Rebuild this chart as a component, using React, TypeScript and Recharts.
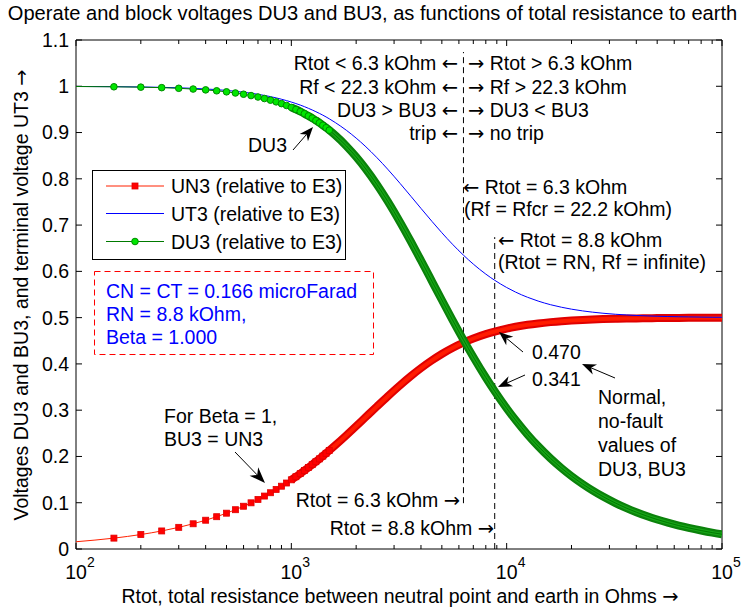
import React from 'react';
import { LineChart, Line, XAxis, YAxis, ReferenceLine } from 'recharts';

const FONT = '"Liberation Sans", Arial, Helvetica, sans-serif';
const AFONT = '"DejaVu Sans", sans-serif';
const FS = 19.5;

// Rtot values (Ohm)
const rtot = [100,150,200,250,300,350,400,450,500,550,600,650,700,750,800,850,900,950,1000,1050,1100,1150,1200,1250,1300,1350,1400,1450,1500,
  1600,1800,2000,2200,2500,2800,3200,3600,4000,4500,5000,5600,6300,7000,8000,8800,10000,11000,12500,14000,16000,18000,20000,22500,25000,28000,32000,36000,40000,45000,50000,56000,63000,70000,80000,90000,100000];

// UN3 (relative to E3) -- also BU3 for Beta = 1
const un3 = [0.0157,0.0235,0.0313,0.0390,0.0468,0.0545,0.0622,0.0698,0.0774,0.0849,0.0924,0.0998,0.1071,0.1144,0.1216,0.1287,0.1357,0.1426,0.1495,0.1562,0.1629,0.1695,0.1760,0.1823,0.1886,0.1948,0.2008,0.2068,0.2127,
  0.2241,0.2456,0.2655,0.2838,0.3083,0.3297,0.3540,0.3741,0.3908,0.4078,0.4215,0.4344,0.4460,0.4549,0.4644,0.4700,0.4763,0.4802,0.4845,0.4875,0.4903,0.4923,0.4937,0.4950,0.4960,0.4968,0.4975,0.4981,0.4984,0.4988,0.4990,0.4992,0.4994,0.4995,0.4996,0.4997,0.4998];

// UT3 (relative to E3)
const ut3 = [0.9996,0.9992,0.9985,0.9977,0.9967,0.9955,0.9942,0.9927,0.9910,0.9891,0.9871,0.9850,0.9826,0.9802,0.9776,0.9749,0.9720,0.9690,0.9659,0.9627,0.9594,0.9560,0.9524,0.9488,0.9451,0.9414,0.9376,0.9337,0.9297,
  0.9216,0.9050,0.8880,0.8709,0.8455,0.8209,0.7900,0.7617,0.7361,0.7079,0.6835,0.6587,0.6350,0.6157,0.5941,0.5807,0.5651,0.5552,0.5440,0.5358,0.5279,0.5224,0.5183,0.5146,0.5119,0.5095,0.5073,0.5058,0.5047,0.5037,0.5030,0.5024,0.5019,0.5016,0.5012,0.5009,0.5008];

// DU3 (relative to E3)
const du3 = [0.9995,0.9989,0.9981,0.9970,0.9956,0.9940,0.9922,0.9902,0.9880,0.9855,0.9828,0.9799,0.9768,0.9735,0.9700,0.9663,0.9625,0.9585,0.9543,0.9499,0.9454,0.9408,0.9360,0.9312,0.9261,0.9210,0.9158,0.9105,0.9051,
  0.8940,0.8711,0.8474,0.8234,0.7873,0.7518,0.7062,0.6634,0.6237,0.5786,0.5381,0.4952,0.4520,0.4149,0.3706,0.3410,0.3041,0.2787,0.2474,0.2223,0.1956,0.1746,0.1576,0.1405,0.1267,0.1133,0.0993,0.0883,0.0796,0.0708,0.0637,0.0569,0.0506,0.0456,0.0399,0.0354,0.0319];

const seriesNames = ['UN3 (relative to E3)', 'UT3 (relative to E3)', 'DU3 (relative to E3)'];

const xTicks = [100, 1000, 10000, 100000];
const xTickExp = ['2', '3', '4', '5'];
const yTicks = [0, 0.1, 0.2, 0.3, 0.4, 0.5, 0.6, 0.7, 0.8, 0.9, 1, 1.1];
const yTickLabels = ['0', '0.1', '0.2', '0.3', '0.4', '0.5', '0.6', '0.7', '0.8', '0.9', '1', '1.1'];
const minorMult = [2, 3, 4, 5, 6, 7, 8, 9];
const decades = [100, 1000, 10000];

const rCrit = 6300; // Rtot = 6.3 kOhm
const rN = 8800; // Rtot = 8.8 kOhm
const critLineSpan = [0.099, 1.074];
const rnLineSpan = [0, 0.674];

const bandStart = 1000;
const markerMin = 150;
const markerMax = 1500;

const rows = rtot.map((r, i) => ({
  r,
  un: un3[i],
  ut: ut3[i],
  du: du3[i],
  unBand: r >= bandStart ? un3[i] : null,
  duBand: r >= bandStart ? du3[i] : null,
}));

// plot box
const PL = 76, PR = 722, PT = 40, PB = 549;
const YAW = 40, XAH = 40;
const Y_PER_PX = 1.1 / (PB - PT);
const DEC_PER_PX = 3 / (PR - PL);
const majLenY = 6 * Y_PER_PX;
const minLenY = 4 * Y_PER_PX;
const lenXf = Math.pow(10, 6 * DEC_PER_PX);

const SquareDot = (props: any) => {
  const { cx, cy, payload, index } = props;
  if (payload.r < markerMin || payload.r > markerMax) return <g key={`s${index}`} />;
  return <rect key={`s${index}`} x={cx - 3} y={cy - 3} width={6} height={6} fill="#ff0000" stroke="#e00000" strokeWidth={0.8} />;
};

const CircleDot = (props: any) => {
  const { cx, cy, payload, index } = props;
  if (payload.r < markerMin || payload.r > markerMax) return <g key={`c${index}`} />;
  return <circle key={`c${index}`} cx={cx} cy={cy} r={3.3} fill="#00e600" stroke="#008a00" strokeWidth={1} />;
};

const XTick = (props: any) => {
  const { x, y, payload } = props;
  const i = xTicks.indexOf(payload.value);
  return (
    <g>
      <text x={x} y={y + 30} textAnchor="middle" fontSize={FS} fontFamily={FONT} fill="#000">10</text>
      <text x={x + 11} y={y + 18} textAnchor="start" fontSize={14} fontFamily={FONT} fill="#000">{xTickExp[i]}</text>
    </g>
  );
};

function Arrow({ x1, y1, x2, y2, hl = 14, hw = 5.5 }: any) {
  const dx = x2 - x1, dy = y2 - y1;
  const L = Math.hypot(dx, dy);
  const ux = dx / L, uy = dy / L;
  const px = -uy, py = ux;
  const bx = x2 - ux * hl, by = y2 - uy * hl;
  const nx = x2 - ux * hl * 0.7, ny = y2 - uy * hl * 0.7;
  return (
    <g>
      <line x1={x1} y1={y1} x2={nx} y2={ny} stroke="#000" strokeWidth={1} />
      <polygon points={`${x2},${y2} ${bx + px * hw},${by + py * hw} ${nx},${ny} ${bx - px * hw},${by - py * hw}`} fill="#000" />
    </g>
  );
}

const AR = (p: any) => <tspan fontFamily={AFONT}>{p.children}</tspan>;

const T = (p: any) => (
  <text x={p.x} y={p.y} textAnchor={p.anchor || 'start'} fontSize={p.fs || FS} fontFamily={FONT} fill={p.fill || '#000'}>{p.children}</text>
);

export default function App() {
  const tickLines: any[] = [];
  decades.forEach((d) => {
    minorMult.forEach((m) => {
      const r = d * m;
      tickLines.push(<ReferenceLine key={`bm${r}`} segment={[{ x: r, y: 0 }, { x: r, y: minLenY }]} stroke="#000" strokeWidth={1} />);
      tickLines.push(<ReferenceLine key={`tm${r}`} segment={[{ x: r, y: 1.1 }, { x: r, y: 1.1 - minLenY }]} stroke="#000" strokeWidth={1} />);
    });
  });
  xTicks.forEach((r) => {
    tickLines.push(<ReferenceLine key={`bM${r}`} segment={[{ x: r, y: 0 }, { x: r, y: majLenY }]} stroke="#000" strokeWidth={1} />);
    tickLines.push(<ReferenceLine key={`tM${r}`} segment={[{ x: r, y: 1.1 }, { x: r, y: 1.1 - majLenY }]} stroke="#000" strokeWidth={1} />);
  });
  yTicks.forEach((v) => {
    tickLines.push(<ReferenceLine key={`yl${v}`} segment={[{ x: 100, y: v }, { x: 100 * lenXf, y: v }]} stroke="#000" strokeWidth={1} />);
    tickLines.push(<ReferenceLine key={`yr${v}`} segment={[{ x: 100000 / lenXf, y: v }, { x: 100000, y: v }]} stroke="#000" strokeWidth={1} />);
  });

  return (
    <div style={{ position: 'absolute', left: 0, top: 0, width: 750, height: 609, background: '#fff', overflow: 'hidden' }}>
      <LineChart width={750} height={609} data={rows} margin={{ top: PT, right: 750 - PR, bottom: 609 - PB - XAH, left: PL - YAW }}>
        <XAxis dataKey="r" type="number" scale="log" domain={[100, 100000]} ticks={xTicks} height={XAH}
          tickSize={0} tickMargin={0} axisLine={false} tickLine={false} interval={0} allowDataOverflow
          tick={(p: any) => <XTick {...p} />} />
        <YAxis type="number" domain={[0, 1.1]} ticks={yTicks} width={YAW} tickSize={0} tickMargin={7}
          axisLine={false} tickLine={false} interval={0} allowDataOverflow
          tickFormatter={(v: number) => yTickLabels[yTicks.indexOf(v)] ?? String(v)}
          tick={{ fontSize: FS, fill: '#000', fontFamily: FONT }} />
        {tickLines}
        <ReferenceLine x={100} stroke="#000" strokeWidth={1} />
        <ReferenceLine x={100000} stroke="#000" strokeWidth={1} />
        <ReferenceLine y={0} stroke="#000" strokeWidth={1} />
        <ReferenceLine y={1.1} stroke="#000" strokeWidth={1} />
        <ReferenceLine segment={[{ x: rCrit, y: critLineSpan[0] }, { x: rCrit, y: critLineSpan[1] }]} stroke="#000" strokeWidth={1} strokeDasharray="6 4" />
        <ReferenceLine segment={[{ x: rN, y: rnLineSpan[0] }, { x: rN, y: rnLineSpan[1] }]} stroke="#000" strokeWidth={1} strokeDasharray="6 4" />

        {/* UN3 */}
        <Line type="monotone" dataKey="unBand" stroke="#e00000" strokeWidth={8} dot={false} isAnimationActive={false} connectNulls={false} legendType="none" />
        <Line type="monotone" dataKey="unBand" stroke="#ff1a00" strokeWidth={4} dot={false} isAnimationActive={false} connectNulls={false} legendType="none" />
        <Line type="monotone" dataKey="un" name={seriesNames[0]} stroke="#ff2000" strokeWidth={1} dot={(p: any) => <SquareDot key={`sd${p.index}`} {...p} />} isAnimationActive={false} />

        {/* UT3 */}
        <Line type="monotone" dataKey="ut" name={seriesNames[1]} stroke="#0000ff" strokeWidth={1} dot={false} isAnimationActive={false} />

        {/* DU3 */}
        <Line type="monotone" dataKey="duBand" stroke="#0b820b" strokeWidth={8} dot={false} isAnimationActive={false} connectNulls={false} legendType="none" />
        <Line type="monotone" dataKey="duBand" stroke="#16a516" strokeWidth={3.5} dot={false} isAnimationActive={false} connectNulls={false} legendType="none" />
        <Line type="monotone" dataKey="du" name={seriesNames[2]} stroke="#007a00" strokeWidth={1} dot={(p: any) => <CircleDot key={`cd${p.index}`} {...p} />} isAnimationActive={false} />
      </LineChart>

      <svg width={750} height={609} style={{ position: 'absolute', left: 0, top: 0, pointerEvents: 'none' }}>
        {/* title */}
        <T x={372.5} y={20} anchor="middle" fs={20.1}>Operate and block voltages DU3 and BU3, as functions of total resistance to earth</T>
        {/* axis labels */}
        <text x={28} y={295} transform="rotate(-90 28 295)" textAnchor="middle" fontSize={FS} fontFamily={FONT} fill="#000">Voltages DU3 and BU3, and terminal voltage UT3 <AR>→</AR></text>
        <T x={400} y={603} anchor="middle">Rtot, total resistance between neutral point and earth in Ohms <AR>→</AR></T>

        {/* legend */}
        <rect x={92.5} y={170.5} width={253} height={89} fill="#fff" stroke="#000" strokeWidth={1} />
        <line x1={106} y1={186} x2={164} y2={186} stroke="#ff2000" strokeWidth={1} />
        <rect x={132} y={183} width={6} height={6} fill="#ff0000" stroke="#e00000" strokeWidth={0.8} />
        <T x={171} y={193}>{seriesNames[0]}</T>
        <line x1={106} y1={213.5} x2={164} y2={213.5} stroke="#0000ff" strokeWidth={1} />
        <T x={171} y={220.5}>{seriesNames[1]}</T>
        <line x1={106} y1={241.5} x2={164} y2={241.5} stroke="#007a00" strokeWidth={1} />
        <circle cx={135} cy={241.5} r={3.3} fill="#00e600" stroke="#008a00" strokeWidth={1} />
        <T x={171} y={248.5}>{seriesNames[2]}</T>

        {/* parameter box */}
        <rect x={94.5} y={271.5} width={279} height={83} fill="none" stroke="#ff0000" strokeWidth={1} strokeDasharray="6 4" />
        <T x={106} y={298} fill="#0000ff">CN = CT = 0.166 microFarad</T>
        <T x={106} y={321} fill="#0000ff">RN = 8.8 kOhm,</T>
        <T x={106} y={344} fill="#0000ff">Beta = 1.000</T>

        {/* trip / no trip block */}
        <T x={458} y={70} anchor="end">Rtot &lt; 6.3 kOhm <AR>←</AR></T>
        <T x={458} y={93.5} anchor="end">Rf &lt; 22.3 kOhm <AR>←</AR></T>
        <T x={458} y={117} anchor="end">DU3 &gt; BU3 <AR>←</AR></T>
        <T x={458} y={140} anchor="end">trip <AR>←</AR></T>
        <T x={468} y={70}><AR>→</AR> Rtot &gt; 6.3 kOhm</T>
        <T x={468} y={93.5}><AR>→</AR> Rf &gt; 22.3 kOhm</T>
        <T x={468} y={117}><AR>→</AR> DU3 &lt; BU3</T>
        <T x={468} y={140}><AR>→</AR> no trip</T>

        <T x={463} y={194}><AR>←</AR> Rtot = 6.3 kOhm</T>
        <T x={464} y={216}>(Rf = Rfcr = 22.2 kOhm)</T>
        <T x={498} y={247}><AR>←</AR> Rtot = 8.8 kOhm</T>
        <T x={498} y={269}>(Rtot = RN, Rf = infinite)</T>

        <T x={248} y={152}>DU3</T>
        <Arrow x1={293} y1={150} x2={313} y2={127} />

        <T x={532} y={359}>0.470</T>
        <T x={532} y={386}>0.341</T>
        <Arrow x1={523} y1={352} x2={499} y2={332} />
        <Arrow x1={525} y1={375} x2={498} y2={387} />

        <T x={598} y={404}>Normal,</T>
        <T x={598} y={428}>no-fault</T>
        <T x={598} y={452}>values of</T>
        <T x={598} y={476}>DU3, BU3</T>
        <Arrow x1={615} y1={378} x2={582} y2={364} />

        <T x={164} y={423}>For Beta = 1,</T>
        <T x={164} y={446}>BU3 = UN3</T>
        <Arrow x1={235} y1={452} x2={265} y2={483} hl={16} hw={6} />

        <T x={460} y={507} anchor="end">Rtot = 6.3 kOhm <AR>→</AR></T>
        <T x={494} y={535} anchor="end">Rtot = 8.8 kOhm <AR>→</AR></T>
      </svg>
    </div>
  );
}
